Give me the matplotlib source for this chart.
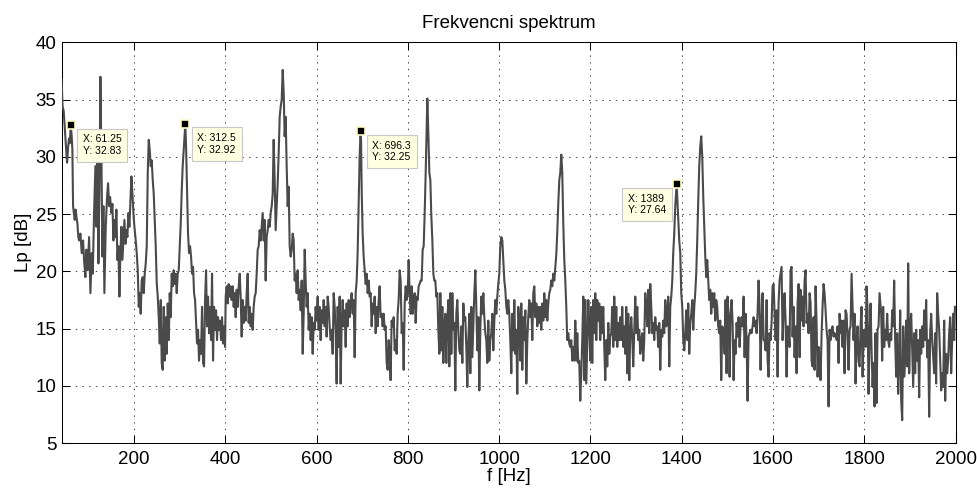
import matplotlib
matplotlib.use('Agg')
import matplotlib.pyplot as plt
import numpy as np

# Spectrum readings, split into frequency bands [Hz] / level [dB]
freq_a = [41.25, 43.5, 46.0, 48.3, 51.9, 53.4, 55.5, 57.5, 59.5, 61.25,
          63.5, 65.0, 66.5, 68.5, 70.2, 72.0, 73.8, 76.0, 78.0, 79.7,
          82.6, 85.5, 88.4, 90.6, 93.5, 95.7, 98.6, 101.6, 104.5, 107.4,
          109.6, 112.5, 115.4, 117.6, 119.8, 122.0, 124.2, 126.4, 128.6, 130.8,
          133.0, 135.1, 138.1, 141.0, 143.2, 145.4, 147.6, 150.5, 152.7, 154.9,
          157.1, 159.2, 161.4, 163.6, 165.8, 168.0, 170.2, 172.4, 174.6, 176.8,
          179.0, 181.2, 183.3, 185.5, 187.7, 189.9, 192.1, 194.3, 196.5, 198.7,
          200.9, 203.8, 206.0, 208.2, 210.4, 212.5, 214.7, 216.9, 219.1, 221.3,
          223.5, 225.7, 227.9, 230.1, 232.3, 234.5, 236.6, 238.8, 241.0, 243.2,
          245.4, 247.6, 249.8, 252.0, 254.2, 256.4, 258.6, 260.7, 262.9, 265.1,
          267.3, 269.5, 271.7, 273.9, 276.1, 278.3, 280.5, 282.6, 284.8, 287.0,
          289.2, 291.4, 293.6, 295.8, 298.0, 300.2, 302.4, 304.6, 306.7, 308.9,
          312.5, 314.1, 316.2, 318.4, 320.6, 322.8, 325.0, 327.2, 329.4, 331.6,
          333.8, 336.0, 338.1, 340.3, 342.5, 344.7, 346.9, 349.1, 351.3, 353.5,
          355.7, 357.9, 360.0, 362.2, 364.4, 366.6, 368.8, 371.0, 373.2, 375.4,
          377.6, 379.8, 381.9, 384.1, 386.3, 388.5, 390.7, 392.9, 395.1, 397.3,
          399.5]
lp_a = [36.8, 34.4, 34.0, 32.5, 30.3, 29.5, 30.8, 31.6, 31.2, 32.83,
        31.8, 30.6, 25.7, 25.0, 24.5, 25.4, 24.8, 24.2, 23.0, 22.7,
        23.3, 21.6, 22.7, 21.0, 19.5, 21.9, 20.1, 23.0, 18.1, 21.6,
        19.8, 25.1, 29.2, 23.9, 30.3, 20.7, 27.1, 37.0, 30.0, 21.3,
        25.7, 18.1, 23.9, 26.5, 27.7, 25.7, 26.5, 25.1, 25.9, 22.7,
        24.5, 23.0, 25.4, 21.0, 22.2, 17.8, 21.6, 23.9, 21.0, 22.7,
        24.5, 22.4, 23.6, 23.0, 25.1, 23.9, 26.2, 28.3, 26.8, 25.1,
        23.9, 22.7, 21.6, 20.1, 16.9, 18.1, 16.3, 19.2, 19.5, 18.1,
        19.8, 20.7, 22.2, 28.6, 31.5, 30.6, 29.2, 29.7, 28.0, 26.8,
        24.5, 22.2, 19.0, 17.8, 16.0, 13.7, 17.5, 12.0, 11.4, 16.9,
        12.2, 16.0, 12.8, 17.2, 14.0, 18.1, 16.0, 19.8, 18.7, 20.1,
        18.9, 19.8, 18.1, 19.8, 20.1, 22.2, 24.2, 27.1, 29.2, 30.6,
        32.92, 30.9, 27.1, 23.3, 21.6, 22.2, 21.3, 19.8, 20.4, 18.1,
        17.5, 15.5, 13.7, 14.9, 12.2, 14.0, 12.8, 16.9, 12.0, 11.7,
        17.5, 20.1, 15.2, 17.8, 14.6, 16.9, 14.0, 19.8, 12.2, 16.9,
        14.9, 16.6, 14.0, 16.0, 14.9, 15.7, 14.0, 16.0, 13.7, 15.2,
        13.4]

freq_b = [400.9, 403.1, 405.3, 407.5, 409.7, 411.8, 414.0, 416.2, 418.4, 420.6,
          422.8, 425.0, 427.2, 429.4, 431.6, 433.7, 435.9, 438.1, 440.3, 442.5,
          444.7, 446.9, 449.1, 451.3, 453.5, 455.7, 457.8, 460.0, 462.2, 464.4,
          466.6, 468.8, 471.0, 473.2, 475.4, 477.6, 479.8, 481.9, 484.1, 486.3,
          488.5, 490.7, 492.9, 495.1, 497.3, 499.5, 501.7, 503.9, 506.0, 508.2,
          510.4, 512.6, 514.8, 517.0, 519.2, 521.4, 523.6, 525.8, 528.0, 530.1,
          532.3, 534.5, 536.7, 538.9, 541.1, 543.3, 545.5, 547.7, 549.9, 552.0,
          554.2, 556.4, 558.6, 560.8, 563.0, 565.2, 567.4, 569.6, 571.8, 574.0,
          576.1, 578.3, 580.5, 582.7, 584.9, 587.1, 589.3, 591.5, 593.7, 595.9,
          598.0, 600.2, 602.4, 604.6, 606.8, 609.0, 611.2, 613.4, 615.6, 617.8,
          620.0, 622.1, 624.3, 626.5, 628.7, 630.9, 633.1, 635.3, 637.5, 639.7,
          641.9, 644.0, 646.2, 648.4, 650.6, 652.8, 655.0, 657.2, 659.4, 661.6,
          663.8, 665.9, 668.1, 670.3, 672.5, 674.7, 676.9, 679.1, 681.3, 683.5,
          685.7, 687.9, 690.0, 692.2, 694.4, 696.3, 697.5, 699.0, 701.0, 703.2,
          705.4, 707.6, 709.8, 712.0, 714.2, 716.3, 718.5, 720.7, 722.9, 725.1,
          727.3, 729.5, 731.7, 733.9, 736.1, 738.2, 740.4, 742.6, 744.8, 747.0,
          749.2, 751.4, 753.6, 755.8, 758.0, 760.2, 762.3, 764.5, 766.7]
lp_b = [17.8, 18.7, 17.2, 18.9, 17.8, 18.7, 17.5, 18.7, 16.9, 18.1,
        16.0, 18.4, 16.9, 18.7, 19.8, 17.8, 14.3, 17.5, 15.5, 16.9,
        15.7, 18.1, 19.8, 15.5, 16.9, 15.2, 16.3, 14.9, 16.9, 17.8,
        18.1, 19.8, 21.9, 22.2, 23.6, 22.7, 23.9, 25.1, 22.7, 24.5,
        19.2, 23.0, 23.6, 24.5, 23.9, 25.1, 25.7, 26.8, 31.5, 28.0,
        23.6, 25.7, 27.7, 30.3, 33.5, 34.4, 35.0, 37.6, 35.6, 31.8,
        33.5, 29.2, 25.7, 27.4, 22.2, 21.3, 21.9, 23.3, 22.7, 19.2,
        19.8, 18.1, 20.1, 17.5, 18.4, 16.6, 19.2, 12.8, 16.3, 21.9,
        19.2, 16.9, 18.1, 14.9, 16.3, 14.0, 16.0, 12.8, 15.5, 14.9,
        16.9, 15.7, 17.8, 14.9, 16.9, 14.0, 16.6, 15.5, 17.5, 15.2,
        16.9, 14.3, 17.8, 16.9, 15.2, 14.0, 14.9, 12.8, 18.1, 16.9,
        14.6, 10.2, 16.9, 13.4, 17.8, 10.2, 15.5, 17.5, 15.2, 16.6,
        13.4, 17.2, 15.2, 17.5, 16.0, 17.2, 18.1, 16.3, 17.5, 12.5,
        18.1, 19.2, 21.6, 25.7, 30.0, 32.25, 31.5, 26.8, 23.3, 21.3,
        20.1, 18.9, 19.8, 18.1, 19.2, 17.8, 18.1, 15.2, 17.2, 16.3,
        17.8, 14.6, 16.9, 15.2, 17.5, 18.7, 16.0, 16.3, 15.2, 16.3,
        14.9, 15.2, 12.0, 11.4, 14.0, 12.8, 10.5, 15.7, 15.2]

freq_c = [769.0, 771.2, 773.4, 775.5, 777.7, 779.9, 782.1, 784.3, 786.5, 788.7,
          790.9, 793.1, 795.3, 797.4, 799.6, 801.8, 804.0, 806.2, 808.4, 810.6,
          812.8, 815.0, 817.2, 819.3, 821.5, 823.7, 825.9, 828.1, 830.3, 832.5,
          834.7, 836.9, 839.1, 841.2, 842.7, 844.9, 847.1, 849.3, 851.5, 853.7,
          855.9, 858.0, 860.2, 862.4, 864.6, 866.8, 869.0, 871.2, 873.4, 875.6,
          877.8, 879.9, 882.1, 884.3, 886.5, 888.7, 890.9, 893.1, 895.3, 897.5,
          899.7, 901.9, 904.0, 906.2, 908.4, 910.6, 912.8, 915.0, 917.2, 919.4,
          921.6, 923.8, 925.9, 928.1, 930.3, 932.5, 934.7, 936.9, 939.1, 941.3,
          943.5, 945.7, 947.9, 950.0, 952.2, 954.4, 956.6, 958.8, 961.0, 963.2,
          965.4, 967.6, 969.8, 971.9, 974.1, 976.3, 978.5, 980.7, 982.9, 985.1,
          987.3, 989.5, 991.7, 993.9, 996.0, 998.2, 1000.4, 1002.6, 1004.8, 1007.0,
          1009.2, 1011.4, 1013.6, 1015.8, 1017.9, 1020.1, 1022.3, 1024.5, 1026.7, 1028.9,
          1031.1, 1033.3, 1035.5, 1037.7, 1039.8, 1042.0, 1044.2, 1046.4, 1048.6, 1050.8,
          1053.0, 1055.2, 1057.4, 1059.6, 1061.8, 1063.9, 1066.1, 1068.3, 1070.5, 1072.7,
          1074.9, 1077.1, 1079.3, 1081.5, 1083.7, 1085.8, 1088.0, 1090.2, 1092.4, 1094.6,
          1096.8, 1099.0, 1101.2, 1103.4, 1105.6, 1107.7, 1109.9, 1112.1, 1114.3, 1116.5,
          1118.7, 1120.9, 1123.1, 1125.3, 1127.5, 1129.7, 1131.9, 1134.0]
lp_c = [16.0, 13.1, 14.0, 12.8, 16.3, 17.5, 20.1, 19.2, 14.6, 15.5,
        11.4, 17.2, 18.7, 17.5, 18.1, 21.0, 18.1, 16.3, 18.7, 16.3,
        17.5, 18.1, 15.5, 17.8, 17.5, 18.7, 18.9, 19.2, 19.2, 21.9,
        22.2, 25.1, 28.6, 32.4, 35.1, 32.1, 28.6, 28.0, 24.8, 22.7,
        19.8, 19.2, 19.2, 17.8, 18.1, 14.9, 12.8, 18.1, 13.1, 16.9,
        12.0, 15.2, 16.3, 12.0, 15.7, 17.5, 11.7, 18.1, 12.8, 18.1,
        14.9, 15.5, 9.6, 16.3, 17.5, 14.9, 13.1, 12.8, 15.2, 12.0,
        17.2, 15.7, 16.0, 13.4, 9.9, 14.0, 16.3, 11.1, 16.9, 12.5,
        15.2, 18.1, 20.1, 16.9, 13.1, 16.0, 9.6, 14.9, 17.8, 16.3,
        18.1, 16.0, 14.6, 14.0, 12.0, 15.7, 12.2, 14.0, 14.6, 16.3,
        13.1, 15.7, 17.5, 16.3, 17.8, 18.9, 19.8, 22.2, 23.0, 22.7,
        21.0, 19.2, 18.4, 16.9, 16.3, 17.5, 16.3, 14.0, 11.1, 16.3,
        13.1, 17.5, 12.8, 14.9, 9.3, 16.9, 15.5, 12.2, 17.2, 11.4,
        16.0, 14.0, 16.6, 10.2, 14.0, 16.0, 17.5, 16.0, 17.2, 14.0,
        18.1, 18.7, 16.0, 17.2, 15.2, 16.9, 15.5, 16.9, 14.9, 17.2,
        15.7, 18.1, 16.0, 17.5, 15.7, 17.2, 18.1, 18.4, 19.2, 18.7,
        19.8, 19.2, 20.4, 21.5, 23.5, 26.0, 28.0, 28.6]

freq_d = [1136.2, 1138.4, 1140.6, 1142.8, 1145.0, 1147.2, 1149.3, 1151.5, 1153.7, 1155.9,
          1158.1, 1160.3, 1162.5, 1164.7, 1166.9, 1169.1, 1171.3, 1173.4, 1175.6, 1177.8,
          1180.0, 1182.2, 1184.4, 1186.6, 1188.8, 1191.0, 1193.2, 1195.4, 1197.5, 1199.7,
          1201.9, 1204.1, 1206.3, 1208.5, 1210.7, 1212.9, 1215.1, 1217.3, 1219.4, 1221.6,
          1223.8, 1226.0, 1228.2, 1230.4, 1232.6, 1234.8, 1237.0, 1239.2, 1241.4, 1243.5,
          1245.7, 1247.9, 1250.1, 1252.3, 1254.5, 1256.7, 1258.9, 1261.1, 1263.3, 1265.4,
          1267.6, 1269.8, 1272.0, 1274.2, 1276.4, 1278.6, 1280.8, 1283.0, 1285.2, 1287.4,
          1289.5, 1291.7, 1293.9, 1296.1, 1298.3, 1300.5, 1302.7, 1304.9, 1307.1, 1309.3,
          1311.5, 1313.6, 1315.8, 1318.0, 1320.2, 1322.4, 1324.6, 1326.8, 1329.0, 1331.2,
          1333.4, 1335.5, 1337.7, 1339.9, 1342.1, 1344.3, 1346.5, 1348.7, 1350.9, 1353.1,
          1355.3, 1357.5, 1359.6, 1361.8, 1364.0, 1366.2, 1368.4, 1370.6, 1372.8, 1375.0,
          1377.2, 1379.4, 1381.5, 1383.7, 1385.9, 1389.0, 1390.3, 1392.5, 1394.7, 1396.9,
          1399.1, 1401.3, 1403.5, 1405.7, 1407.8, 1410.0, 1412.2, 1414.4, 1416.6, 1418.8,
          1421.0, 1423.2, 1425.4, 1427.6, 1429.7, 1431.9, 1434.1, 1436.3, 1438.5, 1440.7,
          1442.9, 1445.1, 1447.3, 1449.5, 1451.7, 1453.8, 1456.0, 1458.2, 1460.4, 1462.6,
          1464.8, 1467.0, 1469.2, 1471.4, 1473.6, 1475.7, 1477.9, 1480.1, 1482.3, 1484.5,
          1486.7, 1488.9]
lp_d = [30.2, 28.6, 24.2, 21.0, 19.2, 16.9, 14.0, 14.6, 13.7, 13.4,
        14.0, 12.2, 13.4, 12.2, 15.7, 12.2, 14.6, 12.0, 12.2, 8.7,
        11.1, 14.0, 17.8, 10.5, 17.5, 10.2, 14.0, 17.5, 15.5, 12.2,
        16.9, 12.0, 17.5, 14.6, 18.1, 14.0, 17.5, 15.7, 17.2, 14.0,
        16.9, 14.6, 16.9, 13.4, 10.5, 14.0, 11.7, 15.5, 12.8, 14.3,
        14.6, 16.9, 13.4, 17.8, 14.0, 16.9, 13.4, 15.5, 14.0, 16.0,
        14.0, 16.9, 13.4, 15.2, 12.8, 16.9, 11.1, 16.3, 10.5, 14.6,
        16.0, 14.3, 11.7, 14.9, 17.8, 14.6, 16.9, 14.0, 14.9, 12.8,
        14.0, 14.6, 12.2, 14.0, 18.1, 16.9, 15.2, 18.4, 14.6, 18.9,
        16.9, 14.6, 15.5, 14.0, 16.0, 14.9, 15.2, 13.4, 15.5, 11.4,
        14.9, 14.3, 15.7, 14.6, 17.5, 15.2, 16.3, 17.8, 11.7, 16.9,
        17.8, 19.2, 21.6, 23.3, 25.7, 27.64, 26.5, 24.5, 22.7, 21.6,
        18.1, 16.9, 14.0, 13.1, 14.6, 16.6, 14.0, 17.2, 12.8, 15.5,
        16.3, 17.5, 14.9, 16.9, 18.1, 19.8, 22.7, 26.2, 29.2, 30.9,
        31.8, 30.0, 26.5, 23.9, 21.3, 19.5, 21.0, 19.2, 17.5, 18.4,
        16.3, 18.1, 16.9, 18.1, 15.7, 17.5, 16.9, 15.2, 14.6, 15.7,
        10.5, 15.2]

freq_e = [1491.9, 1494.1, 1496.2, 1498.4, 1500.6, 1502.8, 1505.0, 1507.2, 1509.4, 1511.6,
          1513.8, 1516.0, 1518.1, 1520.3, 1522.5, 1524.7, 1526.9, 1529.1, 1531.3, 1533.5,
          1535.7, 1537.9, 1540.1, 1542.2, 1544.4, 1546.6, 1548.8, 1551.0, 1553.2, 1555.4,
          1557.6, 1559.8, 1562.0, 1564.2, 1566.3, 1568.5, 1570.7, 1572.9, 1575.1, 1577.3,
          1579.5, 1581.7, 1583.9, 1586.1, 1588.3, 1590.4, 1592.6, 1594.8, 1597.0, 1599.2,
          1601.4, 1603.6, 1605.8, 1608.0, 1610.2, 1612.3, 1614.5, 1616.7, 1618.9, 1621.1,
          1623.3, 1625.5, 1627.7, 1629.9, 1632.1, 1634.3, 1636.4, 1638.6, 1640.8, 1643.0,
          1645.2, 1647.4, 1649.6, 1651.8, 1654.0, 1656.2, 1658.4, 1660.5, 1662.7, 1664.9,
          1667.1, 1669.3, 1671.5, 1673.7, 1675.9, 1678.1, 1680.3, 1682.5, 1684.6, 1686.8,
          1689.0, 1691.2, 1693.4, 1695.6, 1697.8, 1700.0, 1702.2, 1704.4, 1706.6, 1708.7,
          1710.9, 1713.1, 1715.3, 1717.5, 1719.7, 1721.9, 1724.1, 1726.3, 1728.5, 1730.6,
          1732.8, 1735.0, 1737.2, 1739.4, 1741.6, 1743.8, 1746.0, 1748.2, 1750.4, 1752.5,
          1754.7, 1756.9, 1759.1, 1761.3, 1763.5, 1765.7, 1767.9, 1770.1, 1772.3, 1774.4,
          1776.6, 1778.8, 1781.0, 1783.2, 1785.4, 1787.6, 1789.8, 1792.0, 1794.2, 1796.4,
          1798.5, 1800.7, 1802.9, 1805.1, 1807.3, 1809.5, 1811.7, 1813.9, 1816.1, 1818.3,
          1820.4, 1822.6, 1824.8, 1827.0, 1829.2, 1831.4, 1833.6]
lp_e = [14.9, 12.8, 17.5, 11.1, 17.8, 16.0, 10.8, 16.3, 17.5, 15.5,
        10.5, 14.0, 12.8, 15.5, 14.3, 16.0, 13.4, 15.2, 16.0, 15.2,
        17.8, 12.5, 16.3, 14.0, 8.7, 14.3, 14.6, 14.9, 14.6, 15.2,
        16.0, 15.2, 15.7, 14.6, 16.3, 19.2, 16.9, 11.4, 15.5, 18.1,
        14.0, 14.0, 13.1, 17.5, 12.2, 10.8, 14.6, 14.0, 15.5, 18.7,
        18.9, 16.3, 14.0, 16.6, 10.8, 17.2, 19.2, 19.8, 20.4, 14.0,
        16.3, 18.1, 15.7, 10.8, 15.2, 14.6, 13.4, 20.1, 20.4, 14.3,
        16.9, 12.5, 15.2, 11.1, 17.2, 18.9, 12.5, 18.4, 15.7, 17.8,
        15.2, 19.2, 20.1, 15.5, 16.3, 14.6, 18.1, 17.2, 12.2, 11.7,
        16.0, 11.4, 18.7, 15.5, 10.8, 13.4, 12.2, 10.5, 14.6, 16.9,
        18.9, 18.1, 16.6, 14.9, 14.0, 8.2, 14.9, 14.0, 14.9, 15.2,
        14.3, 14.6, 14.3, 14.0, 15.2, 12.0, 16.3, 14.6, 15.7, 13.4,
        15.7, 11.1, 16.6, 16.3, 14.3, 11.4, 14.9, 15.2, 19.8, 16.9,
        14.0, 16.3, 10.2, 14.0, 15.2, 12.2, 11.7, 15.2, 16.9, 10.8,
        14.0, 14.9, 13.4, 18.7, 16.6, 9.3, 14.3, 17.2, 13.1, 9.9,
        12.0, 8.2, 14.6, 8.5, 14.9, 15.2, 18.1]

freq_f = [1837.2, 1839.3, 1841.5, 1843.7, 1845.9, 1848.1, 1850.3, 1852.5, 1854.7, 1856.9,
          1859.1, 1861.3, 1863.4, 1865.6, 1867.8, 1870.0, 1872.2, 1874.4, 1876.6, 1878.8,
          1881.0, 1883.2, 1885.4, 1887.5, 1889.7, 1891.9, 1894.1, 1896.3, 1898.5, 1900.7,
          1902.9, 1905.1, 1907.3, 1909.5, 1911.6, 1913.8, 1916.0, 1918.2, 1920.4, 1922.6,
          1924.8, 1927.0, 1929.2, 1931.4, 1933.6, 1935.7, 1937.9, 1940.1, 1942.3, 1944.5,
          1946.7, 1948.9, 1951.1, 1953.3, 1955.5, 1957.6, 1959.8, 1962.0, 1964.2, 1966.4,
          1968.6, 1970.8, 1973.0, 1975.2, 1977.4, 1979.6, 1981.7, 1983.9, 1986.1, 1988.3,
          1990.5, 1992.7, 1994.9, 1997.1, 1998.75]
lp_f = [16.3, 12.2, 16.9, 13.4, 14.9, 14.0, 16.3, 14.0, 13.4, 14.6,
        14.0, 16.6, 15.2, 19.2, 14.0, 10.8, 14.6, 9.3, 12.2, 16.6,
        8.7, 7.0, 15.2, 10.8, 12.2, 15.7, 11.7, 20.7, 11.1, 15.2,
        16.3, 13.1, 9.9, 14.6, 11.1, 14.9, 12.2, 14.0, 9.0, 14.9,
        12.8, 15.2, 13.4, 16.6, 14.0, 17.5, 12.5, 14.0, 7.3, 14.6,
        16.3, 14.0, 12.5, 11.1, 14.6, 10.2, 18.1, 16.3, 14.9, 12.2,
        9.6, 11.1, 9.9, 15.7, 8.7, 12.8, 11.1, 12.2, 14.6, 16.0,
        11.1, 14.0, 16.3, 14.0, 16.9]

# Data tips placed on the spectrum
tip_freq = [61.25, 312.5, 696.3, 1389.0]
tip_lp = [32.83, 32.92, 32.25, 27.64]
tip_side = ['right', 'right', 'right', 'left']

freq_hz = np.concatenate([freq_a, freq_b, freq_c, freq_d, freq_e, freq_f])
lp_db = np.concatenate([lp_a, lp_b, lp_c, lp_d, lp_e, lp_f])

plt.rcParams['font.family'] = ['Liberation Sans', 'DejaVu Sans']
plt.rcParams['lines.scale_dashes'] = False

fig = plt.figure(figsize=(9.77, 4.88), dpi=100)
ax = fig.add_axes([0.063, 0.092, 0.915, 0.821])

ax.plot(freq_hz, lp_db, color='#4a4a4a', lw=1.5, zorder=3)

ax.set_xlim(freq_hz[0], 2000)
ax.set_ylim(5, 40)
ax.set_xticks(np.arange(200, 2001, 200))
ax.set_yticks(np.arange(5, 41, 5))
ax.grid(True, linestyle=(0, (1.0, 3.8)), color='0.25', lw=0.7)
ax.tick_params(direction='in', top=True, right=True, length=5.8, width=0.75,
               labelsize=13.5, colors='black')
ax.tick_params(axis='x', pad=6)
ax.tick_params(axis='y', pad=3.5)
for s in ax.spines.values():
    s.set_linewidth(0.75)

ax.set_title('Frekvencni spektrum', fontsize=13.5, pad=10.5)
ax.set_xlabel('f [Hz]', fontsize=13.5, labelpad=0)
ax.set_ylabel('Lp [dB]', fontsize=13.5, labelpad=3)

# datatip markers and their boxes
for fx, ly, side in zip(tip_freq, tip_lp, tip_side):
    ax.plot(fx, ly, marker='s', ms=5.5, mfc='black', mec='#fff8c8', mew=1.2,
            zorder=5, clip_on=False)
    if side == 'right':
        off, ha = (8.6, -7.0), 'left'
    else:
        off, ha = (-7.8, -7.0), 'right'
    ax.annotate(f'X: {fx:g}\nY: {ly:g}', (fx, ly), xytext=off,
                textcoords='offset points', ha=ha, va='top', multialignment='left',
                fontsize=7.5, linespacing=1.2, zorder=6,
                bbox=dict(boxstyle='square,pad=0.55', fc='#ffffe1', ec='#c8c8c8', lw=0.8))

fig.savefig('out.png', dpi=100)
